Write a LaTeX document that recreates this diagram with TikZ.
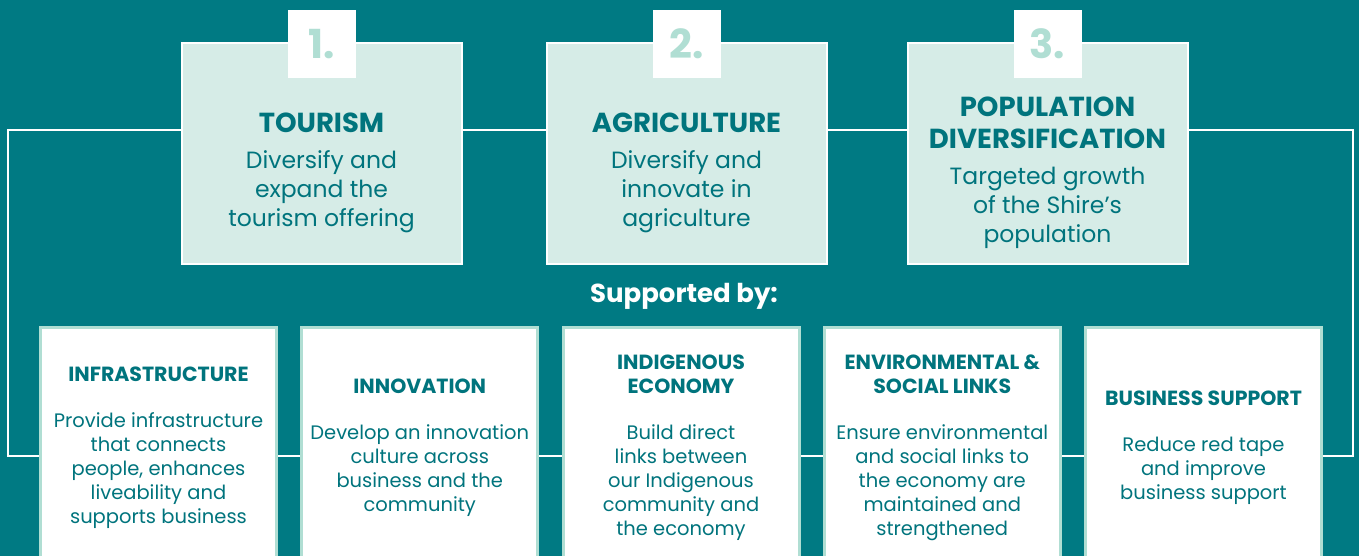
\documentclass[tikz,border=0pt]{standalone}
\usepackage{fontspec}
\setmainfont{Poppins}
\usepackage{tikz}

\definecolor{shireteal}{RGB}{0,122,131}
\definecolor{goalfill}{RGB}{214,236,231}
\definecolor{mint}{RGB}{176,222,211}
\definecolor{inkteal}{RGB}{0,116,125}

\tikzset{
    goalbox/.style={draw=white, line width=2pt, fill=goalfill,
        minimum width=280pt, minimum height=221pt, inner sep=0pt},
    numtab/.style={fill=white, minimum width=68pt, minimum height=68pt,
        inner sep=0pt, text=mint, font=\bfseries\fontsize{40}{40}\selectfont},
    goaltext/.style={text=inkteal, align=center,
        font=\fontsize{23.5}{29}\selectfont},
    pillarbox/.style={draw=mint, line width=3pt, fill=white,
        minimum width=236pt, minimum height=240pt, inner sep=0pt},
    pillartext/.style={text=inkteal, align=center,
        font=\fontsize{19.5}{24}\selectfont},
}
\newcommand{\goalhead}{\bfseries\fontsize{27.5}{32}\selectfont}
\newcommand{\pillarhead}[1]{{\bfseries\fontsize{20.5}{24}\selectfont #1}}

\begin{document}
\begin{tikzpicture}[x=1pt,y=-1pt]
                \clip (0,0) rectangle (1359,556);
                \fill[shireteal] (0,0) rectangle (1359,556);

                % rail behind the boxes
                \coordinate (railNW) at (8,130);
                \coordinate (railSE) at (1353,456);
                \draw[white, line width=2pt] (railNW) rectangle (railSE);

                % goals
                \node[goalbox] (tourism) at (321.5,153.5) {};
                \node[numtab] (tab1) at (321.5,44) {1.};
                \node[goaltext] (tourismtext) at (321.5,173)
                {{\goalhead TOURISM}\\[7pt]
                Diversify and\\ expand the\\ tourism offering};

                \node[goalbox] (agri) at (686.5,153.5) {};
                \node[numtab] (tab2) at (686.5,44) {2.};
                \node[goaltext] (agritext) at (686.5,173)
                {{\goalhead AGRICULTURE}\\[7pt]
                Diversify and\\ innovate in\\ agriculture};

                \node[goalbox] (popul) at (1047.5,153.5) {};
                \node[numtab] (tab3) at (1047.5,44) {3.};
                \node[goaltext] (popultext) at (1047.5,173)
                {{\goalhead POPULATION}\\[3pt]
                {\goalhead DIVERSIFICATION}\\[7pt]
                Targeted growth\\ of the Shire’s\\ population};

                \node[text=white, font=\bfseries\fontsize{26}{30}\selectfont]
                (supported) at (684,296) {Supported by:};

                % pillars
                \node[pillarbox] (infra) at (158.5,447) {};
                \node[pillartext] (infratext) at (158.5,448)
                {\pillarhead{INFRASTRUCTURE}\\[22pt]
                Provide infrastructure\\ that connects\\ people, enhances\\
                liveability and\\ supports business};

                \node[pillarbox] (innov) at (419.75,447) {};
                \node[pillartext] (innovtext) at (419.75,448)
                {\pillarhead{INNOVATION}\\[22pt]
                Develop an innovation\\ culture across\\ business and the\\
                community};

                \node[pillarbox] (indig) at (681,447) {};
                \node[pillartext] (indigtext) at (681,448)
                {\pillarhead{INDIGENOUS}\\ \pillarhead{ECONOMY}\\[22pt]
                Build direct\\ links between\\ our Indigenous\\
                community and\\ the economy};

                \node[pillarbox] (enviro) at (942.25,447) {};
                \node[pillartext] (envirotext) at (942.25,448)
                {\pillarhead{ENVIRONMENTAL \&}\\ \pillarhead{SOCIAL LINKS}\\[22pt]
                Ensure environmental\\ and social links to\\ the economy are\\
                maintained and\\ strengthened};

                \node[pillarbox] (busi) at (1203.5,447) {};
                \node[pillartext] (busitext) at (1203.5,448)
                {\pillarhead{BUSINESS SUPPORT}\\[22pt]
                Reduce red tape\\ and improve\\ business support};
\end{tikzpicture}
\end{document}
